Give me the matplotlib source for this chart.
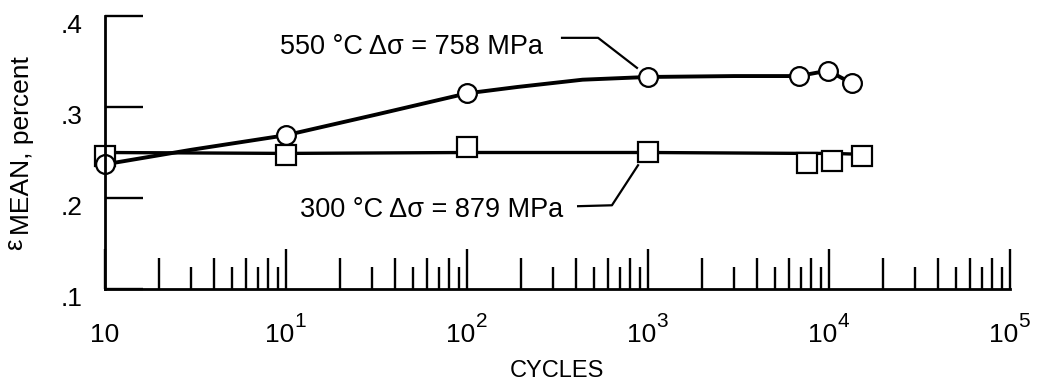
import matplotlib
matplotlib.use("Agg")
import matplotlib.pyplot as plt
from matplotlib.ticker import LogLocator, NullFormatter, FixedLocator
import matplotlib.transforms as mtransforms

plt.rcParams['font.family'] = ['Liberation Sans', 'DejaVu Sans']

# 550 C, delta sigma = 758 MPa (circles)
cyc_550 = [1, 10, 100, 1000, 6800, 9870, 13400]
eps_550 = [0.237, 0.269, 0.315, 0.333, 0.334, 0.340, 0.326]
fit_x_550 = [1, 3, 10, 32, 100, 190, 435, 1000, 3000, 6800, 9870, 13400]
fit_y_550 = [0.237, 0.253, 0.269, 0.292, 0.315, 0.322, 0.330, 0.333, 0.334, 0.334, 0.340, 0.326]

# 300 C, delta sigma = 879 MPa (squares)
cyc_300 = [1, 10, 100, 1000, 7550, 10400, 15200]
eps_300 = [0.246, 0.247, 0.256, 0.251, 0.238, 0.241, 0.246]
fit_x_300 = [1, 10, 100, 1000, 7550, 10400, 15200]
fit_y_300 = [0.250, 0.249, 0.250, 0.250, 0.249, 0.249, 0.248]

label_550 = "550 \u00b0C \u0394\u03c3 = 758 MPa"
label_300 = "300 \u00b0C \u0394\u03c3 = 879 MPa"
label_550_pos = (9.27, 0.366)
label_300_pos = (11.9, 0.187)
leader_550_x = [335, 530, 869]
leader_550_y = [0.376, 0.376, 0.343]
leader_300_x = [881, 632, 411]
leader_300_y = [0.236, 0.192, 0.191]

x_tick_vals = [1, 10, 100, 1000, 10000, 100000]
x_tick_base = ["10", "10", "10", "10", "10", "10"]
x_tick_exp = ["", "1", "2", "3", "4", "5"]
y_tick_vals = [0.1, 0.2, 0.3, 0.4]
y_tick_labels = [".1", ".2", ".3", ".4"]

fig = plt.figure(figsize=(10.49, 3.9), dpi=100)
ax = fig.add_axes([105 / 1049, 1 - 289 / 390, (1010 - 105) / 1049, (289 - 16) / 390])

ax.plot(fit_x_300, fit_y_300, color='black', lw=2.4, zorder=2, clip_on=False)
ax.plot(cyc_300, eps_300, ls='none', marker='s', ms=14, mfc='white', mec='black',
        mew=1.6, zorder=2.05, clip_on=False)
ax.plot(fit_x_550, fit_y_550, color='black', lw=2.8, zorder=2.1, clip_on=False)
ax.plot(cyc_550, eps_550, ls='none', marker='o', ms=13.5, mfc='white', mec='black',
        mew=1.6, zorder=2.15, clip_on=False)

ax.plot(leader_550_x, leader_550_y, color='black', lw=1.6)
ax.plot(leader_300_x, leader_300_y, color='black', lw=1.6)
ax.text(*label_550_pos, label_550, fontsize=19.5, ha='left', va='center')
ax.text(*label_300_pos, label_300, fontsize=19.5, ha='left', va='center')

ax.set_xscale('log')
ax.set_xlim(1, 1e5)
ax.set_ylim(0.1, 0.4)

for side in ['top', 'right']:
    ax.spines[side].set_visible(False)
for side in ['left', 'bottom']:
    ax.spines[side].set_linewidth(2.0)
    ax.spines[side].set_zorder(3)

ax.xaxis.set_major_locator(FixedLocator(x_tick_vals))
ax.xaxis.set_minor_locator(LogLocator(base=10, subs=[2, 4, 6, 8], numticks=30))
ax.xaxis.set_minor_formatter(NullFormatter())
ax.set_xticklabels([])
ax.tick_params(axis='x', which='major', direction='in', length=29, width=1.7)
ax.tick_params(axis='x', which='minor', direction='in', length=22, width=1.7)
odd_minor = [s * 10 ** d for d in range(5) for s in (3, 5, 7, 9)]
ax.vlines(odd_minor, 0, 22 / 273, transform=ax.get_xaxis_transform(), color='black', lw=1.7)

xtr = ax.get_xaxis_transform()
for xv, base, ex in zip(x_tick_vals, x_tick_base, x_tick_exp):
    if ex == "":
        ax.text(xv, -0.194, base, transform=xtr, ha='center', va='baseline', fontsize=19)
    else:
        ax.annotate(base, xy=(xv, -0.194), xycoords=xtr, xytext=(5.8, 0),
                    textcoords='offset points', ha='right', va='baseline', fontsize=19)
        ax.annotate(ex, xy=(xv, -0.194), xycoords=xtr, xytext=(6.2, 10.8),
                    textcoords='offset points', ha='left', va='baseline', fontsize=15)

ax.set_yticks(y_tick_vals)
ax.set_yticklabels(y_tick_labels, fontsize=19)
ax.tick_params(axis='y', direction='in', length=27, width=1.7, pad=16)
offset = mtransforms.ScaledTranslation(0, -7 / 100, fig.dpi_scale_trans)
for lab in ax.get_yticklabels():
    lab.set_transform(lab.get_transform() + offset)

fig.text(557 / 1049, 1 - 371 / 390, "CYCLES", fontsize=17, ha='center', va='center')
fig.text(22 / 1049, 1 - 250 / 390, "\u03b5", fontsize=18.5, rotation=90,
         rotation_mode='anchor', ha='left', va='baseline')
fig.text(29 / 1049, 1 - 235 / 390, "MEAN, percent", fontsize=19, rotation=90,
         rotation_mode='anchor', ha='left', va='baseline')

fig.savefig("out.png", dpi=100)
